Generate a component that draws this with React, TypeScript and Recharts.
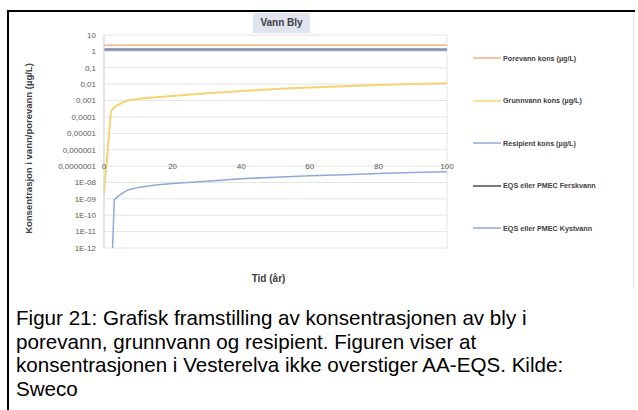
import React from 'react';
import {
  LineChart,
  Line,
  XAxis,
  YAxis,
  CartesianGrid,
  ReferenceDot,
  Legend,
} from 'recharts';

// Tid i år
const tid = [0, 2, 2.5, 3, 5, 7, 10, 15, 20, 30, 40, 50, 60, 70, 80, 90, 100];

// Konsentrasjoner (µg/L)
const porevann = [2.4, 2.4, 2.4, 2.4, 2.4, 2.4, 2.4, 2.4, 2.4, 2.4, 2.4, 2.4, 2.4, 2.4, 2.4, 2.4, 2.4];
const grunnvann = [
  2e-9, 2e-4, 3e-4, 4e-4, 7e-4, 1e-3, 1.3e-3, 1.6e-3, 1.9e-3, 2.8e-3, 3.8e-3, 5e-3, 6.3e-3, 7.5e-3,
  8.8e-3, 1.02e-2, 1.15e-2,
];
const resipient = [
  null, null, 1e-12, 9e-10, 2e-9, 3.5e-9, 5e-9, 7e-9, 8.5e-9, 1.2e-8, 1.7e-8, 2.1e-8, 2.6e-8, 3e-8,
  3.5e-8, 4e-8, 4.5e-8,
];
const eqsFerskvann = [1.3, 1.3, 1.3, 1.3, 1.3, 1.3, 1.3, 1.3, 1.3, 1.3, 1.3, 1.3, 1.3, 1.3, 1.3, 1.3, 1.3];
const eqsKystvann = [1.2, 1.2, 1.2, 1.2, 1.2, 1.2, 1.2, 1.2, 1.2, 1.2, 1.2, 1.2, 1.2, 1.2, 1.2, 1.2, 1.2];

const xTicks = [0, 20, 40, 60, 80, 100];
const yTicks = [10, 1, 0.1, 0.01, 0.001, 1e-4, 1e-5, 1e-6, 1e-7, 1e-8, 1e-9, 1e-10, 1e-11, 1e-12];
const yTickLabels = [
  '10', '1', '0,1', '0,01', '0,001', '0,0001', '0,00001', '0,000001', '0,0000001',
  '1E-08', '1E-09', '1E-10', '1E-11', '1E-12',
];

const rows = tid.map((t, i) => ({
  tid: t,
  porevann: porevann[i],
  grunnvann: grunnvann[i],
  resipient: resipient[i],
  fersk: eqsFerskvann[i],
  kyst: eqsKystvann[i],
}));

const series = [
  { key: 'porevann', name: 'Porevann kons (µg/L)', color: '#f4b183', width: 1.5 },
  { key: 'grunnvann', name: 'Grunnvann kons (µg/L)', color: '#f5d46e', width: 2 },
  { key: 'resipient', name: 'Resipient kons (µg/L)', color: '#8eaadb', width: 1.5 },
  { key: 'fersk', name: 'EQS eller PMEC Ferskvann', color: '#4d4d5c', width: 2 },
  { key: 'kyst', name: 'EQS eller PMEC Kystvann', color: '#8fa7d8', width: 1.5 },
];

const FONT = '"Liberation Sans", Arial, sans-serif';

function fmtY(v: number) {
  const i = yTicks.findIndex((t) => Math.abs(Math.log10(t) - Math.log10(v)) < 1e-6);
  return i >= 0 ? yTickLabels[i] : String(v);
}

// egen legend i samme rekkefølge som seriene
function renderLegend() {
  return (
    <div style={{ fontFamily: FONT }}>
      {series.map((s) => (
        <div
          key={s.key}
          style={{ display: 'flex', alignItems: 'center', height: 20, marginBottom: 22.5 }}
        >
          <svg width={28} height={4} style={{ marginLeft: 5, marginRight: 2 }}>
            <line x1={0} y1={2} x2={28} y2={2} stroke={s.color} strokeWidth={1.5} />
          </svg>
          <span style={{ fontSize: 7.2, fontWeight: 700, color: '#404040', whiteSpace: 'nowrap' }}>
            {s.name}
          </span>
        </div>
      ))}
    </div>
  );
}

export default function App() {
  return (
    <div
      style={{
        position: 'absolute',
        left: 0,
        top: 0,
        width: 638,
        height: 410,
        background: '#fff',
        overflow: 'hidden',
        fontFamily: FONT,
      }}
    >
      {/* ramme rundt figuren */}
      <div style={{ position: 'absolute', left: 7, top: 10, width: 628, height: 2, background: '#000' }} />
      <div style={{ position: 'absolute', left: 7, top: 10, width: 2, height: 400, background: '#000' }} />
      <div style={{ position: 'absolute', left: 633, top: 12, width: 1, height: 275, background: '#e2e2e2' }} />

      <div style={{ position: 'absolute', left: 0, top: 0 }}>
        <LineChart
          width={630}
          height={290}
          data={rows}
          margin={{ top: 35, right: 183, bottom: 0, left: 10 }}
        >
          <CartesianGrid stroke="#e4e4e4" strokeWidth={1} />
          <XAxis
            dataKey="tid"
            type="number"
            domain={[0, 100]}
            ticks={xTicks}
            tick={false}
            tickLine={false}
            axisLine={false}
            height={42}
            label={{
              value: 'Tid (år)',
              position: 'insideBottom',
              offset: 8,
              dx: -7,
              fontSize: 10,
              fontWeight: 700,
              fill: '#404040',
              fontFamily: FONT,
            }}
          />
          <YAxis
            type="number"
            scale="log"
            domain={[1e-12, 10]}
            ticks={yTicks}
            interval={0}
            allowDataOverflow
            width={94}
            tickLine={false}
            axisLine={{ stroke: '#d9d9d9' }}
            tickFormatter={fmtY}
            tick={{ fontSize: 8, fill: '#595959', fontFamily: FONT }}
            label={{
              content: (p: any) => {
                const vb = p.viewBox || {};
                const cx = vb.x + 18;
                const cy = vb.y + vb.height / 2 + 7;
                return (
                  <text
                    x={cx}
                    y={cy}
                    transform={`rotate(-90 ${cx} ${cy})`}
                    textAnchor="middle"
                    dominantBaseline="central"
                    fontSize={9.5}
                    fontWeight={700}
                    fill="#404040"
                    fontFamily={FONT}
                  >
                    Konsentrasjon i vann/porevann (µg/L)
                  </text>
                );
              },
            }}
          />
          {xTicks.map((t) => (
            <ReferenceDot
              key={t}
              x={t}
              y={1e-7}
              r={0}
              fill="none"
              stroke="none"
              ifOverflow="visible"
              label={{ value: String(t), position: 'center', fontSize: 8, fill: '#595959', fontFamily: FONT }}
            />
          ))}
          <Legend
            layout="vertical"
            verticalAlign="middle"
            align="center"
            wrapperStyle={{ position: 'absolute', left: 468, top: 48, width: 160, height: 'auto' }}
            content={renderLegend}
          />
          {series.map((s) => (
            <Line
              key={s.key}
              name={s.name}
              dataKey={s.key}
              stroke={s.color}
              strokeWidth={s.width}
              dot={false}
              isAnimationActive={false}
            />
          ))}
        </LineChart>
      </div>

      {/* diagramtittel */}
      <div
        style={{
          position: 'absolute',
          left: 253,
          top: 13,
          width: 57,
          height: 20,
          background: '#dfe4ee',
          color: '#404040',
          fontSize: 10,
          fontWeight: 700,
          lineHeight: '20px',
          textAlign: 'center',
        }}
      >
        Vann Bly
      </div>

      {/* figurtekst */}
      <div
        style={{
          position: 'absolute',
          left: 16,
          top: 306,
          fontSize: 20.6,
          lineHeight: '23.7px',
          color: '#000',
          whiteSpace: 'nowrap',
        }}
      >
        Figur 21: Grafisk framstilling av konsentrasjonen av bly i
        <br />
        porevann, grunnvann og resipient. Figuren viser at
        <br />
        konsentrasjonen i Vesterelva ikke overstiger AA-EQS. Kilde:
        <br />
        Sweco
      </div>
    </div>
  );
}
